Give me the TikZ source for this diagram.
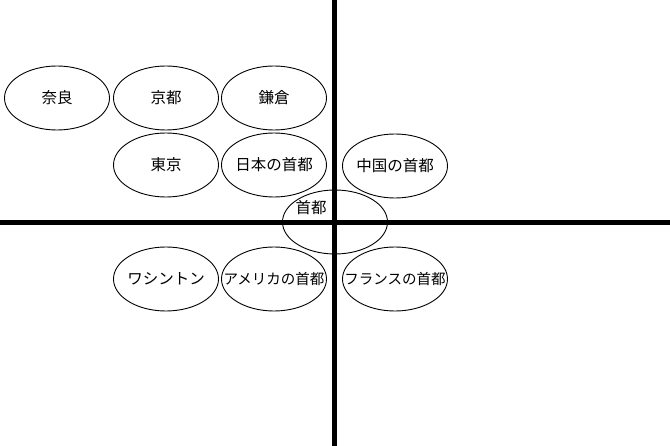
\documentclass[tikz,border=0pt]{standalone}
\usepackage{fontspec}
\setmainfont{Noto Sans CJK JP}
\usetikzlibrary{shapes.geometric}
\newcommand{\ztext}[1]{\makebox[0pt]{#1}}
\begin{document}
\begin{tikzpicture}[x=1pt,y=-1pt,
  oval/.style={draw=black,line width=0.9pt,ellipse,minimum width=105pt,minimum height=64pt,inner sep=0pt,font=\fontsize{15.5}{16}\selectfont},
  axis/.style={line width=5pt,black}]
\useasboundingbox[fill=white] (0,0) rectangle (670,446);
\node[oval] (nara) at (57,98) {\ztext{奈良}};
\node[oval] (kyoto) at (166,98) {\ztext{京都}};
\node[oval] (kamakura) at (274,98) {\ztext{鎌倉}};
\node[oval] (tokyo) at (166,165) {\ztext{東京}};
\node[oval] (nihon) at (274,165) {\ztext{日本の首都}};
\node[oval] (chugoku) at (395,166) {\ztext{中国の首都}};
\node[oval] (shuto) at (335,222) {};
\node[font=\fontsize{15.5}{16}\selectfont] (shutolabel) at (311,208) {首都};
\node[oval] (washington) at (166,279) {\ztext{ワシントン}};
\node[oval,font=\fontsize{14.5}{16}\selectfont] (america) at (274,279) {\ztext{アメリカの首都}};
\node[oval,font=\fontsize{14.5}{16}\selectfont] (france) at (395,279) {\ztext{フランスの首都}};
\coordinate (top) at (334.5,0);
\coordinate (bottom) at (334.5,446);
\coordinate (left) at (0,222.5);
\coordinate (right) at (670,222.5);
\draw[axis] (left) -- (right);
\draw[axis] (top) -- (bottom);
\end{tikzpicture}
\end{document}
